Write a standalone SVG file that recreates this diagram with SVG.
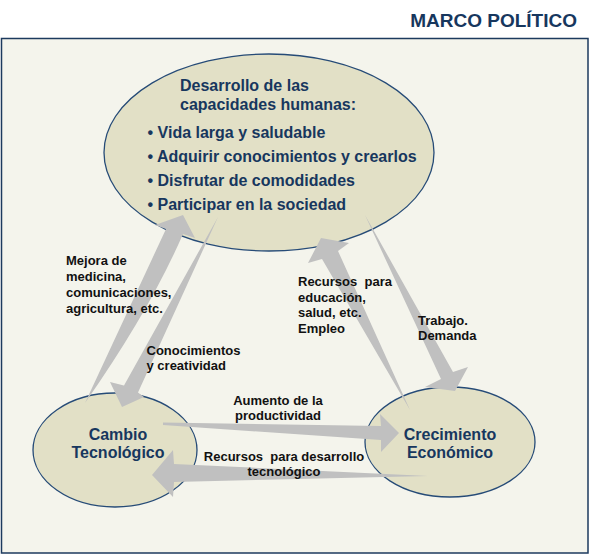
<svg xmlns="http://www.w3.org/2000/svg" width="592" height="556" viewBox="0 0 592 556">
<style>
.node{fill:#e2e0c6;stroke:#264b77;stroke-width:1.3}
.nt{font-family:"Liberation Sans",Arial,sans-serif;font-weight:bold;font-size:16px;fill:#17375e}
.lb{font-family:"Liberation Sans",Arial,sans-serif;font-weight:bold;font-size:13px;fill:#111111}
.arr{fill:#c0c0c0;stroke:none}
</style>
<rect x="0" y="0" width="592" height="556" fill="#ffffff"/>
<text x="577" y="27" text-anchor="end" style="font-family:'Liberation Sans',Arial,sans-serif;font-weight:bold;font-size:19px;fill:#17375e">MARCO POLÍTICO</text>
<rect x="1.5" y="38.5" width="586.5" height="514.5" fill="#f4f4ec" stroke="#1c3a5e" stroke-width="1.5"/>
<g id="node-capacidades">
<ellipse class="node" cx="269" cy="152.5" rx="165" ry="98.5"/>
<text class="nt" x="180" y="91">Desarrollo de las</text>
<text class="nt" x="180" y="110">capacidades humanas:</text>
<text class="nt" x="147.5" y="138">• Vida larga y saludable</text>
<text class="nt" x="147.5" y="162">• Adquirir conocimientos y crearlos</text>
<text class="nt" x="147.5" y="186">• Disfrutar de comodidades</text>
<text class="nt" x="147.5" y="210">• Participar en la sociedad</text>
</g>
<g id="node-cambio">
<ellipse class="node" cx="115" cy="450" rx="82" ry="57"/>
<text class="nt" x="118" y="440" text-anchor="middle">Cambio</text>
<text class="nt" x="118" y="458" text-anchor="middle">Tecnológico</text>
</g>
<g id="node-crecimiento">
<ellipse class="node" cx="450" cy="442" rx="85" ry="55"/>
<text class="nt" x="450" y="440" text-anchor="middle">Crecimiento</text>
<text class="nt" x="450" y="458" text-anchor="middle">Económico</text>
</g>
<g id="connectors">
<path class="arr" d="M85,403 L166,229 L155,225 L183,215 L195,238 L183,234 Q150,310 85,403 Z"/>
<path class="arr" d="M218,217 L124,385.5 L110,382 L122,407 L144,397 L138,392.5 Z"/>
<path class="arr" d="M410,410 L322,259 L308,263 L321,238 L349,243 L338,251 Z"/>
<path class="arr" d="M365,215 L453,372 L468,367 L455,391 L425,387 L441,379 Z"/>
<path class="arr" d="M163,422.5 L381,426 L380,414 L399,433 L381,452 L381,440 L163,425 Z"/>
<path class="arr" d="M428,476 L174,464 L173,450 L152,475 L173,497 L174,482 Z"/>
<text class="lb" x="66" y="265">Mejora de</text>
<text class="lb" x="66" y="281">medicina,</text>
<text class="lb" x="66" y="297">comunicaciones,</text>
<text class="lb" x="66" y="313">agricultura, etc.</text>
<text class="lb" x="146.5" y="355">Conocimientos</text>
<text class="lb" x="146.5" y="370">y creatividad</text>
<text class="lb" x="298" y="286" xml:space="preserve">Recursos  para</text>
<text class="lb" x="298" y="301.7">educación,</text>
<text class="lb" x="298" y="317.3">salud, etc.</text>
<text class="lb" x="298" y="333">Empleo</text>
<text class="lb" x="418" y="325">Trabajo.</text>
<text class="lb" x="418" y="340">Demanda</text>
<text class="lb" x="278" y="405" text-anchor="middle">Aumento de la</text>
<text class="lb" x="278" y="420" text-anchor="middle">productividad</text>
<text class="lb" x="284" y="461" text-anchor="middle" xml:space="preserve">Recursos  para desarrollo</text>
<text class="lb" x="284" y="476" text-anchor="middle">tecnológico</text>
</g>
</svg>
